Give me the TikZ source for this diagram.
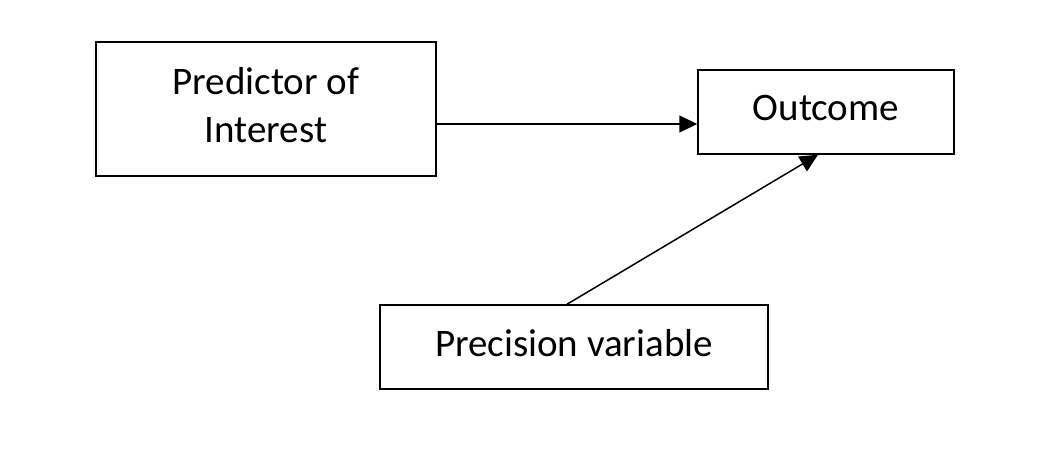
\documentclass[tikz,border=0pt]{standalone}
\usepackage{fontspec}
\setmainfont{Carlito}
\usetikzlibrary{arrows.meta}
\begin{document}
\begin{tikzpicture}[x=1pt,y=-1pt,
  box/.style={draw, line width=1.5pt, rectangle, inner sep=0pt, align=center,
    font=\fontsize{39}{48}\selectfont},
  conn/.style={line width=1.5pt, -{Triangle[length=18pt,width=17pt]}}]
\useasboundingbox[fill=white] (0,0) rectangle (1054,466);
\node[box, minimum width=340pt, minimum height=134pt] (pred) at (266,109) {\raisebox{5pt}{\begin{tabular}{@{}c@{}}Predictor of\\Interest\end{tabular}}};
\node[box, minimum width=256pt, minimum height=84pt] (out) at (826,112) {\raisebox{8pt}{Outcome}};
\node[box, minimum width=388pt, minimum height=84pt] (prec) at (574,347) {\raisebox{9pt}{Precision variable}};
\draw[conn] (pred.east |- 0,124) -- (out.west |- 0,124);
\draw[conn] ([xshift=-7pt]prec.north) -- ([xshift=-8pt]out.south);
\end{tikzpicture}
\end{document}
